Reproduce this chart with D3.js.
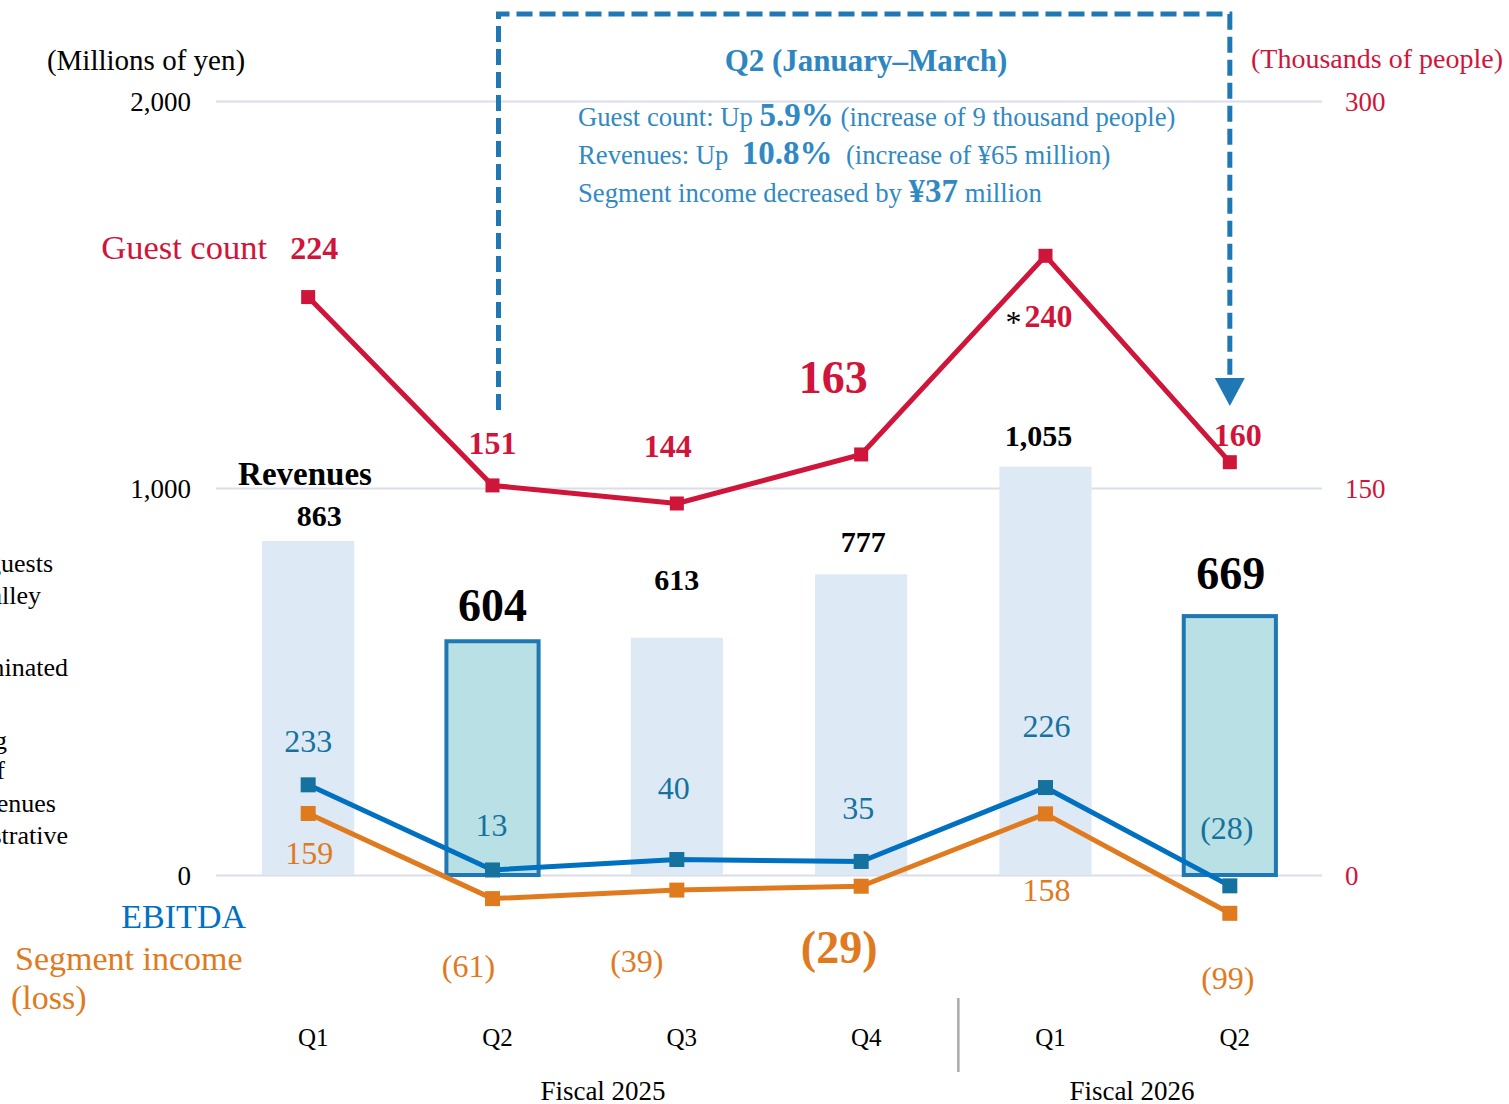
<!DOCTYPE html>
<html>
<head>
<meta charset="utf-8">
<script src="https://cdn.jsdelivr.net/npm/d3@7"></script>
<style>
  html, body { margin: 0; padding: 0; background: #fff; }
  svg { display: block; font-family: "Liberation Serif", "Times New Roman", serif; }
</style>
</head>
<body>
<svg id="chart" width="1509" height="1104"></svg>
<script>
// Chart data
const categories = ['FY25 Q1', 'FY25 Q2', 'FY25 Q3', 'FY25 Q4', 'FY26 Q1', 'FY26 Q2'];
const quarterLabels = ['Q1', 'Q2', 'Q3', 'Q4', 'Q1', 'Q2'];
const fiscalYears = ['Fiscal 2025', 'Fiscal 2026'];
const revenues = [863, 604, 613, 777, 1055, 669];
const guestCount = [224, 151, 144, 163, 240, 160];
const ebitda = [233, 13, 40, 35, 226, -28];
const segmentIncome = [159, -61, -39, -29, 158, -99];
const highlighted = [false, true, false, false, false, true];
const leftTicks = [0, 1000, 2000];
const rightTicks = [0, 150, 300];

// Label placement (offsets from the data point) and sizes
const revLabel = [[11, -26, 30], [0, -36, 46], [0, -58, 30], [2, -33, 30], [-7, -31, 30], [1, -43, 46]];
const guestLabel = [[6, -49, 32], [0, -42, 32], [-9, -57, 32], [-28, -77, 46], [3, 60, 32], [8, -27, 32]];
const ebitdaLabel = [[0, -44], [-1, -45], [-3, -72], [-3, -53], [1, -62], [-3, -58]];
const segLabel = [[1, 40, 32, false], [-24, 67, 32, false], [-40, 71, 32, false], [-22, 61, 46, true], [1, 76, 32, false], [-2, 65, 32, false]];

const RED = '#d0153a';
const BLUE = '#0070c0';
const TEAL = '#15729f';
const ORANGE = '#e07a1f';
const BOX = '#1f78b4';
const NOTE = '#3189c2';

const svg = d3.select('#chart');
const fmt = d3.format(',');
const paren = (v) => v < 0 ? `(${fmt(-v)})` : fmt(v);

// Scales
const x = d3.scaleBand().domain(categories).range([216, 1322]).paddingInner(0.5).paddingOuter(0.25);
const cx = (c) => x(c) + x.bandwidth() / 2;
const yL = d3.scaleLinear().domain([0, 2000]).range([875, 101]);
const yR = d3.scaleLinear().domain([0, 300]).range([875, 101]);

// Left axis with gridlines
const gLeft = svg.append('g')
    .attr('transform', 'translate(216,0)')
    .call(d3.axisLeft(yL).tickValues(leftTicks).tickSize(-1106).tickPadding(25).tickFormat(fmt));
gLeft.select('.domain').remove();
gLeft.selectAll('.tick line').attr('stroke', '#d9dee7').attr('stroke-width', 2);
gLeft.selectAll('.tick text').attr('font-size', 27).attr('fill', '#000')
    .attr('font-family', '"Liberation Serif", serif').attr('dy', '0.35em');

// Right axis
const gRight = svg.append('g')
    .attr('transform', 'translate(1322,0)')
    .call(d3.axisRight(yR).tickValues(rightTicks).tickSize(0).tickPadding(23));
gRight.select('.domain').remove();
gRight.selectAll('.tick text').attr('font-size', 27).attr('fill', RED)
    .attr('font-family', '"Liberation Serif", serif').attr('dy', '0.35em');

// Revenue bars
svg.append('g').selectAll('rect')
    .data(categories)
    .join('rect')
    .attr('x', (c) => x(c))
    .attr('y', (c, i) => yL(revenues[i]))
    .attr('width', x.bandwidth())
    .attr('height', (c, i) => yL(0) - yL(revenues[i]))
    .attr('fill', (c, i) => highlighted[i] ? '#b9e0e4' : '#dde9f5')
    .attr('stroke', (c, i) => highlighted[i] ? BOX : 'none')
    .attr('stroke-width', 4);

// Lines
const drawLine = (values, scale, color, markerColor, size) => {
    const line = d3.line().x((d, i) => cx(categories[i])).y((d) => scale(d));
    svg.append('path')
        .datum(values)
        .attr('d', line)
        .attr('fill', 'none')
        .attr('stroke', color)
        .attr('stroke-width', 5)
        .attr('stroke-linejoin', 'round');
    svg.append('g').selectAll('rect')
        .data(values)
        .join('rect')
        .attr('x', (d, i) => cx(categories[i]) - size / 2)
        .attr('y', (d) => scale(d) - size / 2)
        .attr('width', size)
        .attr('height', size)
        .attr('fill', markerColor);
};
drawLine(segmentIncome, yL, ORANGE, ORANGE, 15);
drawLine(ebitda, yL, BLUE, TEAL, 15);
drawLine(guestCount, yR, RED, RED, 14);

// Value labels
const label = (xx, yy, text, size, color, bold) => svg.append('text')
    .attr('x', xx).attr('y', yy)
    .attr('text-anchor', 'middle')
    .attr('dominant-baseline', 'central')
    .attr('font-size', size)
    .attr('font-weight', bold ? 'bold' : 'normal')
    .attr('fill', color)
    .text(text);

revenues.forEach((v, i) => {
    const [dx, dy, fs] = revLabel[i];
    label(cx(categories[i]) + dx, yL(v) + dy, fmt(v), fs, '#000', true);
});
guestCount.forEach((v, i) => {
    const [dx, dy, fs] = guestLabel[i];
    label(cx(categories[i]) + dx, yR(v) + dy, fmt(v), fs, RED, true);
});
ebitda.forEach((v, i) => {
    const [dx, dy] = ebitdaLabel[i];
    label(cx(categories[i]) + dx, yL(v) + dy, paren(v), 32, TEAL, false);
});
segmentIncome.forEach((v, i) => {
    const [dx, dy, fs, bold] = segLabel[i];
    label(cx(categories[i]) + dx, yL(v) + dy, paren(v), fs, ORANGE, bold);
});

// Asterisk on FY26 Q1 guest count
label(cx(categories[4]) - 32, yR(guestCount[4]) + 66, '*', 32, '#000', false);

// Series names
label(305, 474, 'Revenues', 33, '#000', true);
svg.append('text').attr('x', 267).attr('y', 247).attr('text-anchor', 'end')
    .attr('dominant-baseline', 'central').attr('font-size', 34.5).attr('fill', RED).text('Guest count');
svg.append('text').attr('x', 246).attr('y', 916).attr('text-anchor', 'end')
    .attr('dominant-baseline', 'central').attr('font-size', 34).attr('fill', BLUE).text('EBITDA');
svg.append('text').attr('x', 15).attr('y', 958)
    .attr('dominant-baseline', 'central').attr('font-size', 34).attr('fill', ORANGE).text('Segment income');
svg.append('text').attr('x', 11).attr('y', 997)
    .attr('dominant-baseline', 'central').attr('font-size', 34).attr('fill', ORANGE).text('(loss)');

// Unit labels
label(146, 60, '(Millions of yen)', 29, '#000', false);
label(1377, 58, '(Thousands of people)', 28, RED, false);

// Side note running off the left edge (cut off in the source too)
const sideNote = [['guests', 53, 563], ['valley', 41, 595], ['eliminated', 68, 667], ['including', 7, 740],
    ['of', 5, 770], ['revenues', 56, 803], ['administrative', 68, 835]];
svg.append('g').selectAll('text')
    .data(sideNote)
    .join('text')
    .attr('x', (d) => d[1]).attr('y', (d) => d[2])
    .attr('text-anchor', 'end').attr('dominant-baseline', 'central')
    .attr('font-size', 26).attr('fill', '#000')
    .text((d) => d[0]);

// X axis labels
const gX = svg.append('g')
    .attr('transform', 'translate(5,1037)')
    .call(d3.axisBottom(x).tickSize(0).tickPadding(0).tickFormat((c, i) => quarterLabels[i]));
gX.select('.domain').remove();
gX.selectAll('.tick text').attr('font-size', 25).attr('fill', '#000')
    .attr('font-family', '"Liberation Serif", serif').attr('dy', '0.35em');

// Fiscal year divider and labels
const divX = (x(categories[3]) + x.bandwidth() + x(categories[4])) / 2 + 5;
svg.append('line').attr('x1', divX).attr('x2', divX).attr('y1', 998).attr('y2', 1072)
    .attr('stroke', '#aaaaaa').attr('stroke-width', 2.5);
label(603, 1091, fiscalYears[0], 27, '#000', false);
label(1132, 1091, fiscalYears[1], 27, '#000', false);

// Dashed call-out box with arrow
const boxL = cx(categories[1]) + 6;
const boxR = cx(categories[5]);
svg.append('path')
    .attr('d', `M${boxL},410 V14 H${boxR} V380`)
    .attr('fill', 'none')
    .attr('stroke', BOX)
    .attr('stroke-width', 5)
    .attr('stroke-dasharray', '16,7');
svg.append('path')
    .attr('d', `M${boxR - 15},378 L${boxR + 15},378 L${boxR},406 Z`)
    .attr('fill', BOX);

label(866, 60, 'Q2 (January–March)', 31, '#2e86c1', true);

const noteLines = [
    [['Guest count: Up ', false], ['5.9%', true], [' (increase of 9 thousand people)', false]],
    [['Revenues: Up  ', false], ['10.8%', true], ['  (increase of ¥65 million)', false]],
    [['Segment income decreased by ', false], ['¥37', true], [' million', false]]
];
noteLines.forEach((parts, li) => {
    const t = svg.append('text')
        .attr('x', 578).attr('y', 126 + li * 38)
        .attr('fill', NOTE)
        .attr('xml:space', 'preserve')
        .style('white-space', 'pre');
    parts.forEach(([s, bold]) => {
        t.append('tspan')
            .attr('font-size', bold ? 33 : 26.7)
            .attr('font-weight', bold ? 'bold' : 'normal')
            .text(s);
    });
});
</script>
</body>
</html>
